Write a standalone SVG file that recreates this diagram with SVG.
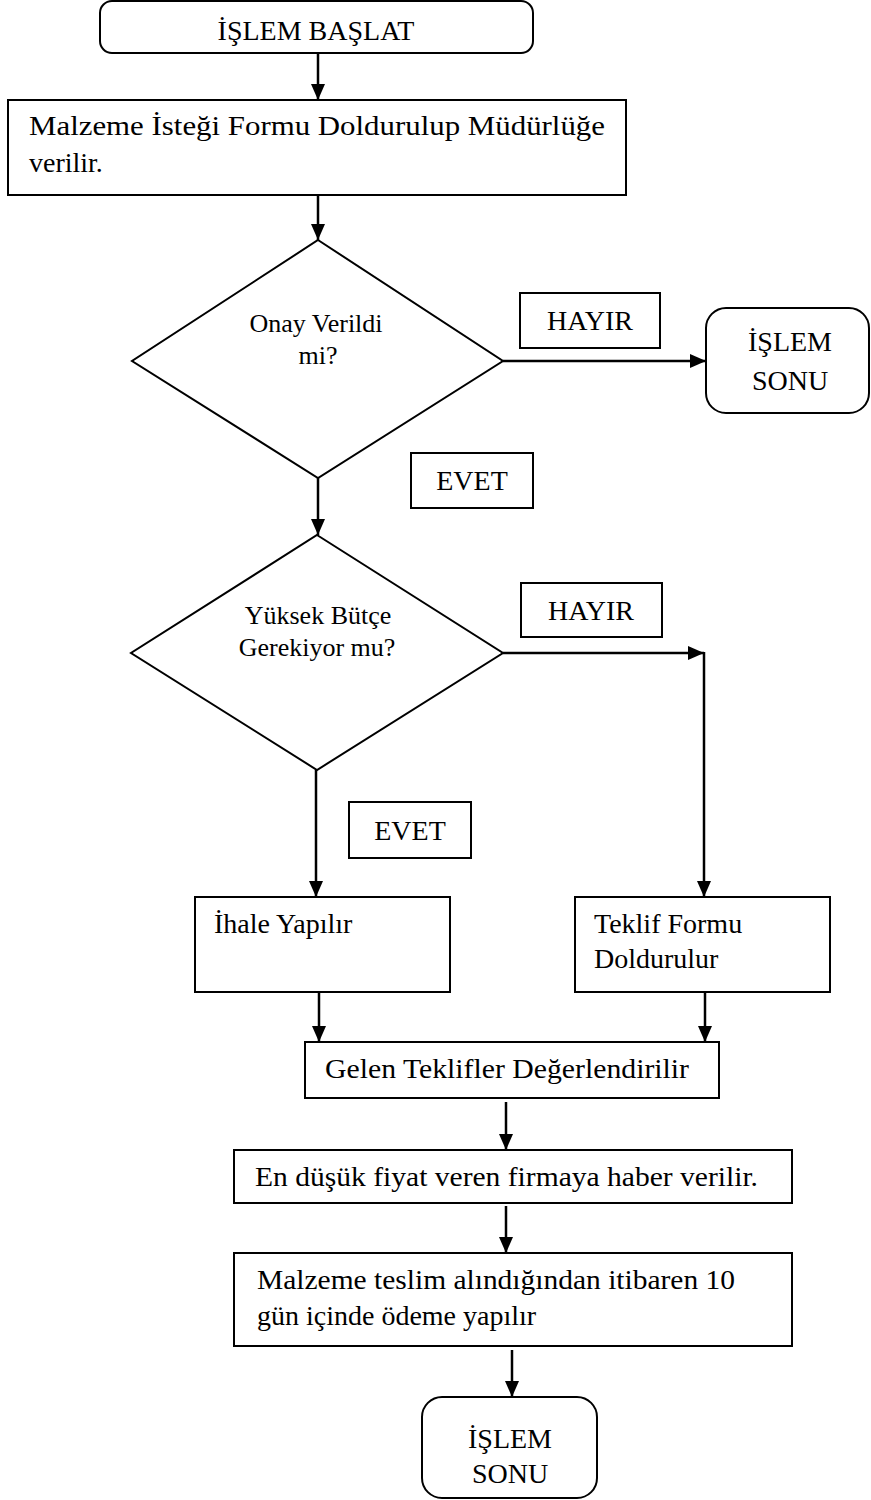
<svg xmlns="http://www.w3.org/2000/svg" width="871" height="1500" viewBox="0 0 871 1500">
<style>
.n{fill:#fff;stroke:#000;stroke-width:2}
.t{font-family:"Liberation Serif","Times New Roman",serif;font-size:28px;fill:#000}
.d{font-family:"Liberation Serif","Times New Roman",serif;font-size:26px;fill:#000}
.c{fill:none;stroke:#000;stroke-width:2.5}
</style>
<defs>
<marker id="ah" markerUnits="userSpaceOnUse" markerWidth="16" markerHeight="14" refX="16" refY="7" orient="auto">
<path d="M0,0 L16,7 L0,14 z" fill="#000"/>
</marker>
</defs>
<rect width="871" height="1500" fill="#fff"/>
<g id="connectors">
<line class="c" x1="318" y1="53" x2="318" y2="100" marker-end="url(#ah)"/>
<line class="c" x1="318" y1="195" x2="318" y2="240" marker-end="url(#ah)"/>
<line class="c" x1="503" y1="361" x2="706" y2="361" marker-end="url(#ah)"/>
<line class="c" x1="318" y1="478" x2="318" y2="535" marker-end="url(#ah)"/>
<line class="c" x1="503" y1="653" x2="704" y2="653" marker-end="url(#ah)"/>
<line class="c" x1="704" y1="652" x2="704" y2="897" marker-end="url(#ah)"/>
<line class="c" x1="316" y1="770" x2="316" y2="897" marker-end="url(#ah)"/>
<line class="c" x1="319" y1="993" x2="319" y2="1042" marker-end="url(#ah)"/>
<line class="c" x1="705" y1="993" x2="705" y2="1042" marker-end="url(#ah)"/>
<line class="c" x1="506" y1="1102" x2="506" y2="1150" marker-end="url(#ah)"/>
<line class="c" x1="506" y1="1206" x2="506" y2="1253" marker-end="url(#ah)"/>
<line class="c" x1="512" y1="1350" x2="512" y2="1397" marker-end="url(#ah)"/>
</g>
<g id="start">
<rect class="n" x="100" y="1" width="433" height="52" rx="12"/>
<text class="t" x="316" y="40" text-anchor="middle">İŞLEM BAŞLAT</text>
</g>
<g id="form">
<rect class="n" x="8" y="100" width="618" height="95"/>
<text class="t" x="29" y="135" textLength="576" lengthAdjust="spacingAndGlyphs">Malzeme İsteği Formu Doldurulup Müdürlüğe</text>
<text class="t" x="29" y="172">verilir.</text>
</g>
<g id="onay">
<polygon class="n" points="318,240 503,361 318,478 132,361"/>
<text class="d" x="316" y="332" text-anchor="middle">Onay Verildi</text>
<text class="d" x="318" y="364" text-anchor="middle">mi?</text>
</g>
<g id="hayir1">
<rect class="n" x="520" y="293" width="140" height="55"/>
<text class="t" x="590" y="330" text-anchor="middle">HAYIR</text>
</g>
<g id="son1">
<rect class="n" x="706" y="308" width="163" height="105" rx="20"/>
<text class="t" x="790" y="351" text-anchor="middle">İŞLEM</text>
<text class="t" x="790" y="390" text-anchor="middle">SONU</text>
</g>
<g id="evet1">
<rect class="n" x="411" y="453" width="122" height="55"/>
<text class="t" x="472" y="490" text-anchor="middle">EVET</text>
</g>
<g id="butce">
<polygon class="n" points="317,535 503,653 317,770 131,653"/>
<text class="d" x="318" y="624" text-anchor="middle">Yüksek Bütçe</text>
<text class="d" x="317" y="656" text-anchor="middle">Gerekiyor mu?</text>
</g>
<g id="hayir2">
<rect class="n" x="521" y="583" width="141" height="54"/>
<text class="t" x="591" y="620" text-anchor="middle">HAYIR</text>
</g>
<g id="evet2">
<rect class="n" x="349" y="802" width="122" height="56"/>
<text class="t" x="410" y="840" text-anchor="middle">EVET</text>
</g>
<g id="ihale">
<rect class="n" x="195" y="897" width="255" height="95"/>
<text class="t" x="214" y="933">İhale Yapılır</text>
</g>
<g id="teklif">
<rect class="n" x="575" y="897" width="255" height="95"/>
<text class="t" x="594" y="933">Teklif Formu</text>
<text class="t" x="594" y="968">Doldurulur</text>
</g>
<g id="gelen">
<rect class="n" x="305" y="1042" width="414" height="56"/>
<text class="t" x="325" y="1078" textLength="364" lengthAdjust="spacingAndGlyphs">Gelen Teklifler Değerlendirilir</text>
</g>
<g id="endusuk">
<rect class="n" x="234" y="1150" width="558" height="53"/>
<text class="t" x="255" y="1186" textLength="503" lengthAdjust="spacingAndGlyphs">En düşük fiyat veren firmaya haber verilir.</text>
</g>
<g id="odeme">
<rect class="n" x="234" y="1253" width="558" height="93"/>
<text class="t" x="257" y="1289" textLength="478" lengthAdjust="spacingAndGlyphs">Malzeme teslim alındığından itibaren 10</text>
<text class="t" x="257" y="1325">gün içinde ödeme yapılır</text>
</g>
<g id="son2">
<rect class="n" x="422" y="1397" width="175" height="101" rx="20"/>
<text class="t" x="510" y="1448" text-anchor="middle">İŞLEM</text>
<text class="t" x="510" y="1483" text-anchor="middle">SONU</text>
</g>
</svg>
